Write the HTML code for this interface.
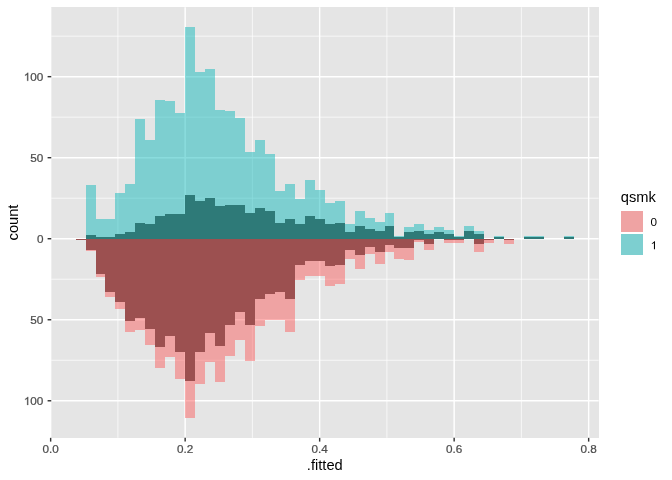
<!DOCTYPE html>
<html><head><meta charset="utf-8"><title>plot</title>
<style>html,body{margin:0;padding:0;background:#fff;width:672px;height:480px;overflow:hidden}svg{display:block}</style>
</head><body>
<svg width="672" height="480" viewBox="0 0 672 480">
<rect x="0" y="0" width="672" height="480" fill="#FFFFFF"/>
<rect x="51" y="7" width="548" height="431" fill="#E5E5E5"/>
<g stroke="#FFFFFF" stroke-width="0.71"><line x1="117.9" y1="7.33" x2="117.9" y2="437.85"/><line x1="252.4" y1="7.33" x2="252.4" y2="437.85"/><line x1="386.9" y1="7.33" x2="386.9" y2="437.85"/><line x1="521.4" y1="7.33" x2="521.4" y2="437.85"/><line x1="51.25" y1="36.16" x2="598.7" y2="36.16"/><line x1="51.25" y1="117.18" x2="598.7" y2="117.18"/><line x1="51.25" y1="198.21" x2="598.7" y2="198.21"/><line x1="51.25" y1="279.23" x2="598.7" y2="279.23"/><line x1="51.25" y1="360.26" x2="598.7" y2="360.26"/></g>
<g stroke="#FFFFFF" stroke-width="1.42"><line x1="50.65" y1="7.33" x2="50.65" y2="437.85"/><line x1="185.15" y1="7.33" x2="185.15" y2="437.85"/><line x1="319.65" y1="7.33" x2="319.65" y2="437.85"/><line x1="454.15" y1="7.33" x2="454.15" y2="437.85"/><line x1="588.65" y1="7.33" x2="588.65" y2="437.85"/><line x1="51.25" y1="76.67" x2="598.7" y2="76.67"/><line x1="51.25" y1="157.69" x2="598.7" y2="157.69"/><line x1="51.25" y1="238.72" x2="598.7" y2="238.72"/><line x1="51.25" y1="319.75" x2="598.7" y2="319.75"/><line x1="51.25" y1="400.77" x2="598.7" y2="400.77"/></g>
<clipPath id="cp"><rect x="51.25" y="7.33" width="547.45" height="430.52"/></clipPath>
<g clip-path="url(#cp)">
<path fill="#473B35" d="M86 235H96V239H86zM96 237H105V239H96zM105 237H115V239H105zM115 234H125V239H115zM125 232H135V239H125zM135 223H145V239H135zM145 224H155V239H145zM155 216H165V239H155zM165 214H175V239H165zM175 214H185V239H175zM185 195H195V239H185zM195 201H205V239H195zM205 198H215V239H205zM215 206H225V239H215zM225 205H235V239H225zM235 205H245V239H235zM245 213H255V239H245zM255 208H265V239H255zM265 211H275V239H265zM275 223H285V239H275zM285 219H295V239H285zM295 224H305V239H295zM305 216H315V239H305zM315 219H325V239H315zM325 224H335V239H325zM335 223H345V239H335zM345 232H355V239H345zM355 226H365V239H355zM365 229H375V239H365zM375 231H385V239H375zM385 226H394V239H385zM394 237H404V239H394zM404 232H414V239H404zM414 231H424V239H414zM424 234H434V239H424zM434 232H444V239H434zM444 234H454V239H444zM454 237H464V239H454zM464 231H474V239H464zM474 234H484V239H474zM494 237H504V239H494zM524 237H534V239H524zM534 237H544V239H534zM564 237H574V239H564z"/>
<path fill="#3F3F3F" d="M76 239H86V240H76zM86 239H96V250H86zM96 239H105V274H96zM105 239H115V292H105zM115 239H125V302H115zM125 239H135V321H125zM135 239H145V318H135zM145 239H155V329H145zM155 239H165V347H155zM165 239H175V336H165zM175 239H185V352H175zM185 239H195V381H185zM195 239H205V352H195zM205 239H215V333H205zM215 239H225V346H215zM225 239H235V325H225zM235 239H245V312H235zM245 239H255V325H245zM255 239H265V299H255zM265 239H275V294H265zM275 239H285V292H275zM285 239H295V299H285zM295 239H305V265H295zM305 239H315V261H305zM315 239H325V261H315zM325 239H335V266H325zM335 239H345V265H335zM345 239H355V250H345zM355 239H365V255H355zM365 239H375V247H365zM375 239H385V252H375zM385 239H394V245H385zM394 239H404V248H394zM404 239H414V248H404zM414 239H424V240H414zM424 239H434V244H424zM444 239H454V240H444zM454 239H464V240H454zM474 239H484V244H474zM484 239H494V240H484zM504 239H514V240H504z"/>
<path fill="#15B9BB" fill-opacity="0.5" d="M86 185H96V239H86zM96 219H105V239H96zM105 219H115V239H105zM115 193H125V239H115zM125 184H135V239H125zM135 119H145V239H135zM145 140H155V239H145zM155 100H165V239H155zM165 101H175V239H165zM175 113H185V239H175zM185 27H195V239H185zM195 72H205V239H195zM205 69H215V239H205zM215 110H225V239H215zM225 111H235V239H225zM235 118H245V239H235zM245 152H255V239H245zM255 140H265V239H255zM265 154H275V239H265zM275 191H285V239H275zM285 184H295V239H285zM295 199H305V239H295zM305 180H315V239H305zM315 190H325V239H315zM325 203H335V239H325zM335 201H345V239H335zM345 224H355V239H345zM355 211H365V239H355zM365 218H375V239H365zM375 222H385V239H375zM385 213H394V239H385zM394 236H404V239H394zM404 227H414V239H404zM414 224H424V239H414zM424 230H434V239H424zM434 227H444V239H434zM444 230H454V239H444zM454 236H464V239H454zM464 226H474V239H464zM474 231H484V239H474zM494 236H504V239H494zM524 236H534V239H524zM534 236H544V239H534zM564 236H574V239H564z"/>
<path fill="#F96161" fill-opacity="0.5" d="M76 239H86V240H76zM86 239H96V251H86zM96 239H105V277H96zM105 239H115V297H105zM115 239H125V309H115zM125 239H135V332H125zM135 239H145V330H135zM145 239H155V345H145zM155 239H165V368H155zM165 239H175V357H165zM175 239H185V379H175zM185 239H195V418H185zM195 239H205V384H195zM205 239H215V362H205zM215 239H225V382H215zM225 239H235V356H225zM235 239H245V340H235zM245 239H255V361H245zM255 239H265V326H255zM265 239H275V320H265zM275 239H285V320H275zM285 239H295V332H285zM295 239H305V280H295zM305 239H315V276H305zM315 239H325V276H315zM325 239H335V286H325zM335 239H345V284H335zM345 239H355V259H345zM355 239H365V269H355zM365 239H375V254H365zM375 239H385V264H375zM385 239H394V252H385zM394 239H404V259H394zM404 239H414V260H404zM414 239H424V242H414zM424 239H434V250H424zM444 239H454V243H444zM454 239H464V243H454zM474 239H484V252H474zM484 239H494V243H484zM504 239H514V244H504z"/>
</g>
<g stroke="#333333" stroke-width="1.42"><line x1="47.6" y1="76.67" x2="51.25" y2="76.67"/><line x1="47.6" y1="157.69" x2="51.25" y2="157.69"/><line x1="47.6" y1="238.72" x2="51.25" y2="238.72"/><line x1="47.6" y1="319.75" x2="51.25" y2="319.75"/><line x1="47.6" y1="400.77" x2="51.25" y2="400.77"/><line x1="50.65" y1="437.85" x2="50.65" y2="441.6"/><line x1="185.15" y1="437.85" x2="185.15" y2="441.6"/><line x1="319.65" y1="437.85" x2="319.65" y2="441.6"/><line x1="454.15" y1="437.85" x2="454.15" y2="441.6"/><line x1="588.65" y1="437.85" x2="588.65" y2="441.6"/></g>
<g font-family="Liberation Sans, sans-serif" font-size="11.73" fill="#4D4D4D" stroke="#4D4D4D" stroke-width="0.25"><path transform="translate(23.83,80.87) scale(0.005728,-0.005498)" stroke-width="44" d="M763 0L583 0L583 1147C540 1106 483 1064 413 1023C343 982 280 951 224 930L224 1104C325 1151 413 1208 488 1274C563 1340 616 1404 647 1466L763 1466Z"/><text style="filter:grayscale(1)" transform="translate(30.35,80.87) scale(1,0.96)">00</text><text style="filter:grayscale(1)" transform="translate(30.35,161.89) scale(1,0.96)">50</text><text style="filter:grayscale(1)" transform="translate(36.88,242.92) scale(1,0.96)">0</text><text style="filter:grayscale(1)" transform="translate(30.35,323.94) scale(1,0.96)">50</text><path transform="translate(23.83,404.97) scale(0.005728,-0.005498)" stroke-width="44" d="M763 0L583 0L583 1147C540 1106 483 1064 413 1023C343 982 280 951 224 930L224 1104C325 1151 413 1208 488 1274C563 1340 616 1404 647 1466L763 1466Z"/><text style="filter:grayscale(1)" transform="translate(30.35,404.97) scale(1,0.96)">00</text><text style="filter:grayscale(1)" transform="translate(42.5,453) scale(1,0.96)">0.0</text><text style="filter:grayscale(1)" transform="translate(177,453) scale(1,0.96)">0.2</text><text style="filter:grayscale(1)" transform="translate(311.5,453) scale(1,0.96)">0.4</text><text style="filter:grayscale(1)" transform="translate(446,453) scale(1,0.96)">0.6</text><text style="filter:grayscale(1)" transform="translate(580.5,453) scale(1,0.96)">0.8</text></g>
<g><text style="filter:grayscale(1)" x="324.8" y="469.6" text-anchor="middle" font-family="Liberation Sans, sans-serif" font-size="14.67" fill="#000000">.fitted</text>
<text style="filter:grayscale(1)" transform="translate(18,222.5) rotate(-90)" text-anchor="middle" font-family="Liberation Sans, sans-serif" font-size="14.67" fill="#000000">count</text>
<text style="filter:grayscale(1)" x="620.8" y="201.8" font-family="Liberation Sans, sans-serif" font-size="14.67" fill="#000000">qsmk</text>
<rect x="621" y="211" width="22" height="21" fill="#EFA3A3"/>
<rect x="621" y="234" width="22" height="21" fill="#7DCFD0"/>
<g font-family="Liberation Sans, sans-serif" font-size="11.73" fill="#000000">
<text style="filter:grayscale(1)" transform="translate(650.6,226.1) scale(1,0.96)">0</text><path transform="translate(650.6,249.2) scale(0.005728,-0.005498)" stroke-width="44" d="M763 0L583 0L583 1147C540 1106 483 1064 413 1023C343 982 280 951 224 930L224 1104C325 1151 413 1208 488 1274C563 1340 616 1404 647 1466L763 1466Z"/></g></g>
</svg>
</body></html>
